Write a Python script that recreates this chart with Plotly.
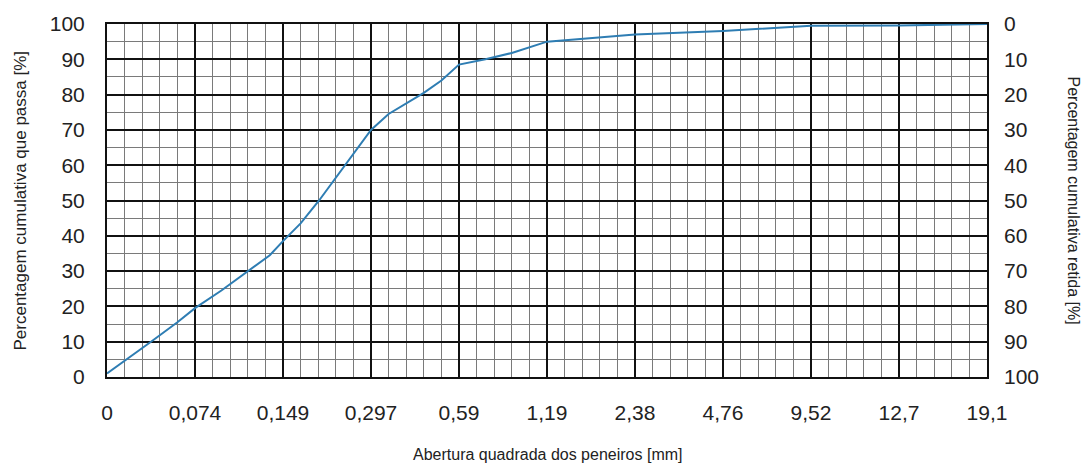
import plotly.graph_objects as go

# Sieve openings (category labels, equally spaced)
sieve_labels = ["0", "0,074", "0,149", "0,297", "0,59", "1,19", "2,38", "4,76", "9,52", "12,7", "19,1"]
# Curve: position along the sieve axis (category index) and % passing
curve_pos = [0.0, 0.2, 0.5, 0.8, 1.0, 1.3, 1.6, 1.85, 2.0, 2.2, 2.41, 2.6, 2.8, 3.0, 3.2, 3.4, 3.6, 3.8,
             4.0, 4.3, 4.6, 5.0, 6.0, 7.0, 8.0, 9.0, 10.0]
curve_passing = [1.0, 4.5, 10.0, 15.5, 19.5, 24.5, 30.0, 34.5, 38.5, 43.5, 50.0, 56.5, 63.0, 70.0, 74.5,
                 77.5, 80.5, 84.0, 88.5, 90.0, 91.8, 95.0, 97.0, 98.0, 99.5, 99.6, 100.0]
y_ticks = list(range(0, 101, 10))

FONT = "Liberation Sans, Arial, Helvetica, sans-serif"
TXT = "#222"

# The page body adds an 8 px margin, so the figure is sized to fit the 1090x472 window.
W, H = 1074, 456
L, R, T, B = 99, 95, 16, 87
PW, PH = W - L - R, H - T - B

fig = go.Figure()
fig.add_trace(go.Scatter(x=curve_pos, y=curve_passing, mode="lines",
                         line=dict(color="#2e7db3", width=2), showlegend=False, hoverinfo="skip"))
fig.add_trace(go.Scatter(x=[0, 10], y=[0, 100], yaxis="y2", mode="markers",
                         marker=dict(opacity=0), showlegend=False, hoverinfo="skip"))

fig.update_layout(
    width=W, height=H,
    margin=dict(l=L, r=R, t=T, b=B, autoexpand=False),
    paper_bgcolor="white", plot_bgcolor="white",
    font=dict(family=FONT, color=TXT),
    xaxis=dict(range=[0, 10], tickvals=list(range(len(sieve_labels))), ticktext=sieve_labels,
               showgrid=True, gridcolor="#111", gridwidth=2,
               minor=dict(dtick=0.2, showgrid=True, gridcolor="#7a7a7a", gridwidth=1.2),
               showline=True, linecolor="#111", linewidth=2, mirror=True,
               zeroline=False, ticks="", tickfont=dict(size=21, family=FONT, color=TXT),
               ticklabelstandoff=16),
    yaxis=dict(range=[0, 100], tickvals=y_ticks,
               showgrid=True, gridcolor="#111", gridwidth=2,
               minor=dict(dtick=5, showgrid=True, gridcolor="#7a7a7a", gridwidth=1.2),
               showline=True, linecolor="#111", linewidth=2, mirror=True,
               zeroline=False, ticks="", tickfont=dict(size=21, family=FONT, color=TXT),
               ticklabelstandoff=16),
    yaxis2=dict(range=[100, 0], tickvals=y_ticks, overlaying="y", side="right",
                showgrid=False, zeroline=False, showline=False, ticks="",
                tickfont=dict(size=21, family=FONT, color=TXT), ticklabelstandoff=16),
    annotations=[
        dict(text="Percentagem cumulativa que passa [%]", xref="paper", yref="paper",
             x=(12 - L) / PW, y=0.5, textangle=-90, showarrow=False,
             xanchor="center", yanchor="middle", font=dict(size=17, family=FONT, color=TXT)),
        dict(text="Percentagem cumulativa retida [%]", xref="paper", yref="paper",
             x=(1065 - L) / PW, y=0.5, textangle=90, showarrow=False,
             xanchor="center", yanchor="middle", font=dict(size=16, family=FONT, color=TXT)),
        dict(text="Abertura quadrada dos peneiros [mm]", xref="paper", yref="paper",
             x=0.5, y=(H - B - 446) / PH, showarrow=False,
             xanchor="center", yanchor="middle", font=dict(size=16, family=FONT, color=TXT)),
    ],
)

fig.write_html("out.html")
